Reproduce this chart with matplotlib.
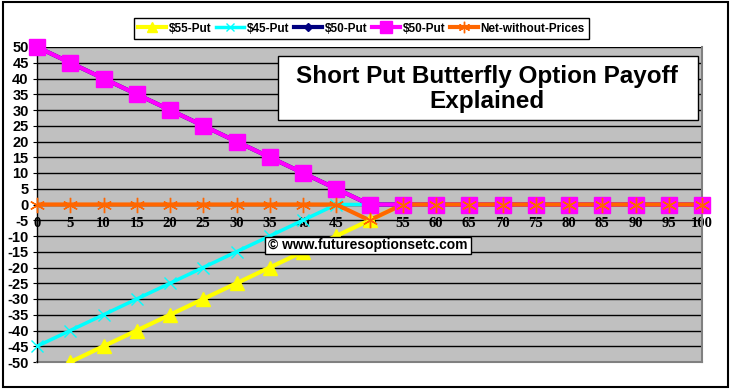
import numpy as np
import matplotlib
matplotlib.use("Agg")
import matplotlib.pyplot as plt
from matplotlib.patches import Rectangle
from matplotlib.lines import Line2D

# strike prices on the x axis
prices = [0, 5, 10, 15, 20, 25, 30, 35, 40, 45, 50,
          55, 60, 65, 70, 75, 80, 85, 90, 95, 100]

put55 = [-55, -50, -45, -40, -35, -30, -25, -20, -15, -10, -5,
         0, 0, 0, 0, 0, 0, 0, 0, 0, 0]
put45 = [-45, -40, -35, -30, -25, -20, -15, -10, -5, 0, 0,
         0, 0, 0, 0, 0, 0, 0, 0, 0, 0]
put50a = [50, 45, 40, 35, 30, 25, 20, 15, 10, 5, 0,
          0, 0, 0, 0, 0, 0, 0, 0, 0, 0]
put50b = [50, 45, 40, 35, 30, 25, 20, 15, 10, 5, 0,
          0, 0, 0, 0, 0, 0, 0, 0, 0, 0]
net = [0, 0, 0, 0, 0, 0, 0, 0, 0, 0, -5,
       0, 0, 0, 0, 0, 0, 0, 0, 0, 0]

labels = ['$55-Put', '$45-Put', '$50-Put', '$50-Put', 'Net-without-Prices']
yticks = list(range(-50, 55, 5))

W, H = 730, 390
fig = plt.figure(figsize=(W / 100, H / 100), dpi=100)
fig.patch.set_facecolor('white')


def fx(x):
    return x / W


def fy(y):
    return 1 - y / H


# plot area in pixels: left 37, right 702, top 47, bottom 362
ax = fig.add_axes([fx(37), fy(362), fx(702) - fx(37), fy(47) - fy(362)])
ax.set_facecolor('#C0C0C0')
ax.set_xlim(0, 100)
ax.set_ylim(-50, 50)

for v in yticks:
    ax.axhline(v, color='black', lw=1, zorder=1)

series = [
    (put55, '#FFFF00', '^', 10, 3.0, True),
    (put45, '#00FFFF', 'x', 8, 2.5, False),
    (put50a, '#000080', 'D', 6, 3.0, False),
    (put50b, '#FF00FF', 's', 12, 3.0, False),
    (net, '#FF6600', (6, 2, 0), 11, 3.0, False),
]

# Excel draws every line first, then every marker
for i, (vals, col, mk, ms, lw, clip) in enumerate(series):
    ax.plot(prices, vals, color=col, lw=lw, zorder=3 + i * 0.1, clip_on=clip,
            solid_capstyle='butt')
for i, (vals, col, mk, ms, lw, clip) in enumerate(series):
    mew = 1.0 if mk in ('x',) or isinstance(mk, tuple) else 1
    ax.plot(prices, vals, ls='none', marker=mk, ms=ms, color=col, mec=col,
            mew=mew, zorder=5 + i * 0.1, clip_on=clip)

ax.spines['bottom'].set_position(('data', 0))
ax.spines['bottom'].set_color('black')
ax.spines['bottom'].set_linewidth(1.5)
ax.spines['bottom'].set_zorder(2)
ax.spines['left'].set_color('black')
ax.spines['left'].set_linewidth(1)
ax.spines['top'].set_visible(False)
ax.spines['right'].set_color('#808080')
ax.spines['right'].set_linewidth(1.5)
ax.plot([0, 100], [-50, -50], color='#808080', lw=1.5, clip_on=False, zorder=2)

ax.set_xticks(prices)
ax.set_xticklabels([str(p) for p in prices], fontsize=10.5, fontweight='bold',
                   family='Liberation Serif')
ax.tick_params(axis='x', length=0, pad=9)
ax.set_yticks(yticks)
ax.set_yticklabels([str(v) for v in yticks], fontsize=10.5, fontweight='bold',
                   family='Liberation Sans')
ax.tick_params(axis='y', length=3, pad=3)

# title box
fig.patches.append(Rectangle((fx(278), fy(120)), fx(698) - fx(278), fy(56) - fy(120),
                             transform=fig.transFigure, facecolor='white',
                             edgecolor='black', lw=1, zorder=10))
fig.text(fx(487), fy(89), 'Short Put Butterfly Option Payoff\nExplained',
         ha='center', va='center', fontsize=17.5, fontweight='bold',
         family='Liberation Sans', linespacing=1.15, zorder=11)

# watermark box
fig.patches.append(Rectangle((fx(265), fy(254)), fx(471) - fx(265), fy(237) - fy(254),
                             transform=fig.transFigure, facecolor='white',
                             edgecolor='black', lw=1, zorder=10))
fig.text(fx(368), fy(245.5), '\u00a9 www.futuresoptionsetc.com', ha='center',
         va='center', fontsize=10, fontweight='bold', family='Liberation Sans',
         zorder=11)

# outer chart frame
fig.patches.append(Rectangle((fx(3), fy(387)), fx(728) - fx(3), fy(2) - fy(387),
                             transform=fig.transFigure, facecolor='none',
                             edgecolor='black', lw=1.5, zorder=0))

handles = [Line2D([], [], color=c, lw=lw, marker=m, ms=ms * 0.75, mec=c)
           for (_, c, m, ms, lw, _) in series]
leg = fig.legend(handles, labels, ncol=5, loc='center',
                 bbox_to_anchor=(fx(361.5), fy(28.5)),
                 prop={'family': 'Liberation Sans', 'weight': 'bold', 'size': 8.5},
                 frameon=True, fancybox=False, framealpha=1, edgecolor='black',
                 handlelength=2.4, handletextpad=0.2, columnspacing=0.4,
                 borderpad=0.35, borderaxespad=0)
leg.get_frame().set_linewidth(1)

fig.savefig('out.png', dpi=100)
